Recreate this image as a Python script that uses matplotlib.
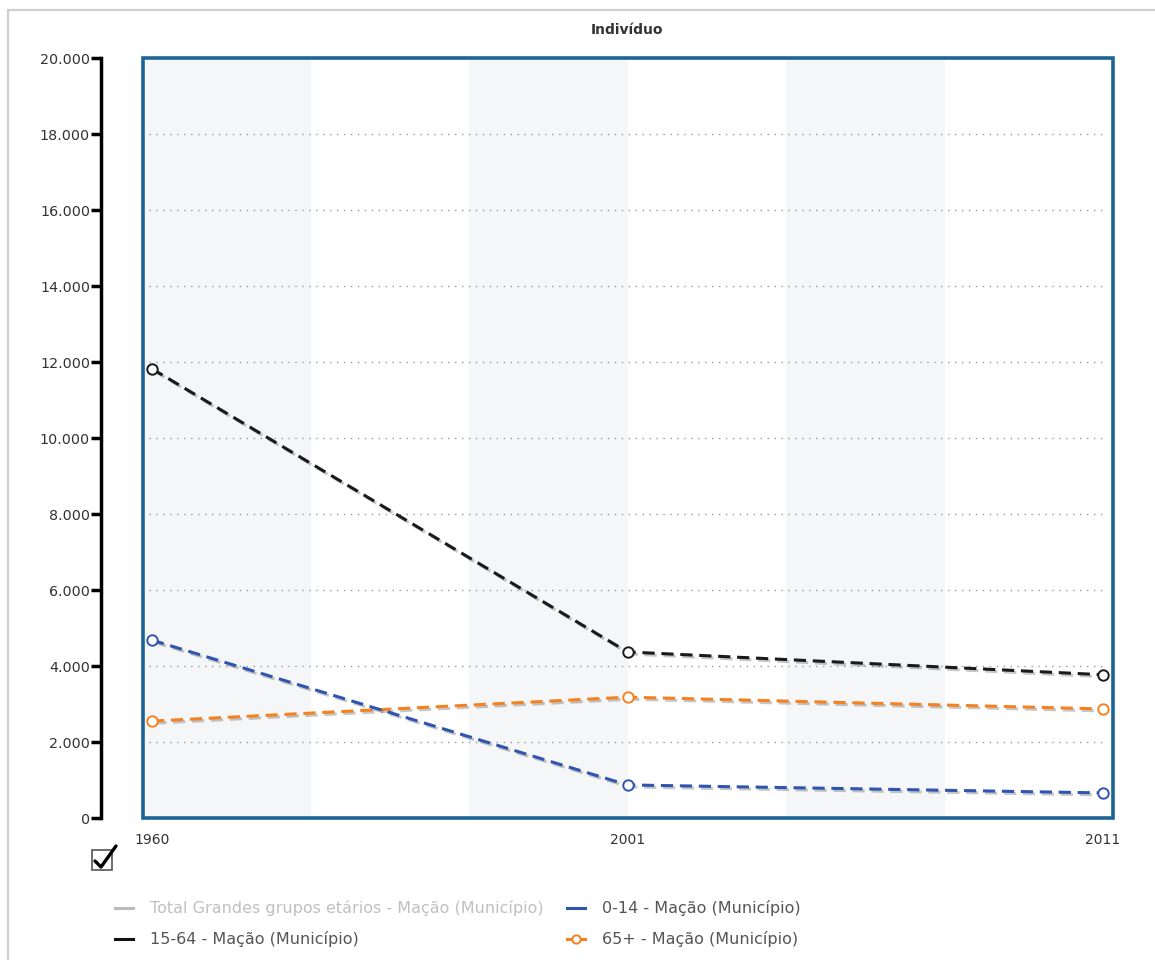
import matplotlib
matplotlib.use("Agg")
import matplotlib.pyplot as plt
import matplotlib.patheffects as pe
from matplotlib.patches import Rectangle
from matplotlib.lines import Line2D

# Population by broad age group, Mação (Município)
years = ["1960", "2001", "2011"]
age_0_14 = [4680, 870, 660]
age_15_64 = [11820, 4370, 3770]
age_65_plus = [2550, 3180, 2870]

y_ticks = [0, 2000, 4000, 6000, 8000, 10000, 12000, 14000, 16000, 18000, 20000]
y_tick_labels = ["0", "2.000", "4.000", "6.000", "8.000", "10.000", "12.000",
                 "14.000", "16.000", "18.000", "20.000"]

legend_labels = [
    "Total Grandes grupos etários - Mação (Município)",
    "0-14 - Mação (Município)",
    "15-64 - Mação (Município)",
    "65+ - Mação (Município)",
]

W, H = 1155, 960
fig = plt.figure(figsize=(W / 100, H / 100), dpi=100)
fig.patch.set_facecolor("white")

# outer frame (top and left edges)
fig.add_artist(Line2D([8 / W, 1.0], [1 - 10 / H, 1 - 10 / H], transform=fig.transFigure,
                      color="#cfcfcf", lw=1.5))
fig.add_artist(Line2D([8 / W, 8 / W], [0, 1 - 10 / H], transform=fig.transFigure,
                      color="#cfcfcf", lw=1.5))

left, right, top, bottom = 143, 1113, 58, 818
ax = fig.add_axes([left / W, 1 - bottom / H, (right - left) / W, (bottom - top) / H])

x = list(range(len(years)))
x0 = -0.019
x1 = 2.021
ax.set_xlim(x0, x1)
ax.set_ylim(0, 20000)

# alternating vertical bands, a third of a category wide
bands = [(x0, 1 / 3), (2 / 3, 1.0), (4 / 3, 5 / 3)]
for a, b in bands:
    ax.axvspan(a, b, color="#f5f6f8", zorder=0, lw=0)

# dotted horizontal grid
for t in y_ticks[1:-1]:
    ax.axhline(t, xmin=0.006, xmax=0.994, color="#999999", lw=1.0,
               linestyle=(0, (1, 4)), zorder=1)

shadow = [pe.SimpleLineShadow(offset=(1.5, -1.5), shadow_color="#000000", alpha=0.22),
          pe.Normal()]

series = [
    (age_15_64, "#1a1a1a"),
    (age_65_plus, "#f58220"),
    (age_0_14, "#2f55b0"),
]
for vals, col in series:
    ax.plot(x, vals, color=col, lw=2.2, linestyle=(0, (4, 2.2)), zorder=3,
            path_effects=shadow)
    ax.plot(x, vals, linestyle="none", marker="o", ms=7.5, mfc="white", mec=col,
            mew=1.4, zorder=4)

# left axis spine placed away from the plot area
for s in ["top", "right", "bottom"]:
    ax.spines[s].set_visible(False)
ax.spines["left"].set_position(("outward", 30.2))
ax.spines["left"].set_linewidth(2.5)
ax.spines["left"].set_color("black")
ax.set_yticks(y_ticks)
ax.set_yticklabels(y_tick_labels)
ax.tick_params(axis="y", direction="out", length=7, width=2.5, color="black",
               labelsize=10.3, labelcolor="#333333", pad=1)

ax.set_xticks(x)
ax.set_xticklabels(years)
ax.tick_params(axis="x", length=0, labelsize=10, labelcolor="#333333", pad=11)

# blue frame around the plot area
ax.add_patch(Rectangle((0, 0), 1, 1, transform=ax.transAxes, fill=False,
                       edgecolor="#1c6396", lw=2.6, clip_on=False, zorder=5))

fig.text(627 / W, 1 - 30 / H, "Indivíduo", ha="center", va="center",
         fontsize=10, fontweight="bold", color="#333333")

# checkbox below the axis
fig.add_artist(Rectangle((92 / W, 1 - 870 / H), 20 / W, 20 / H, transform=fig.transFigure,
                         fill=False, edgecolor="#555555", lw=1.2))
fig.add_artist(Line2D([95 / W, 101 / W, 116 / W], [1 - 861 / H, 1 - 867 / H, 1 - 846 / H],
                      transform=fig.transFigure, color="black", lw=2.4,
                      solid_capstyle="round", solid_joinstyle="round"))

# legend
legend_items = [
    (115, 908, "#bbbbbb", legend_labels[0], "#c0c0c0", False),
    (567, 908, "#2f55b0", legend_labels[1], "#555555", False),
    (115, 939, "#111111", legend_labels[2], "#555555", False),
    (567, 939, "#f58220", legend_labels[3], "#555555", True),
]
for lx, ly, lc, txt, tc, mk in legend_items:
    fig.add_artist(Line2D([lx / W, (lx + 18) / W], [1 - ly / H, 1 - ly / H],
                          transform=fig.transFigure, color=lc, lw=2.2))
    if mk:
        fig.add_artist(Line2D([(lx + 9) / W], [1 - ly / H], transform=fig.transFigure,
                              marker="o", ms=6, mfc="white", mec=lc, mew=1.4,
                              linestyle="none"))
    fig.text((lx + 35) / W, 1 - ly / H, txt, ha="left", va="center",
             fontsize=11.5, color=tc)

fig.savefig("out.png", dpi=100, facecolor="white")
